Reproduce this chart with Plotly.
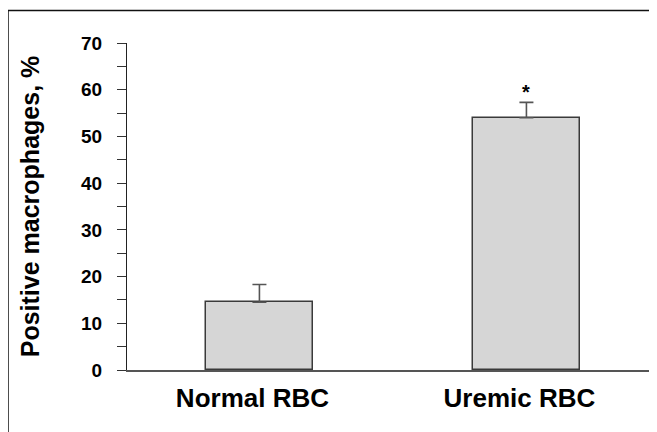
import plotly.graph_objects as go

categories = ["Normal RBC", "Uremic RBC"]
values = [14.5, 54.0]
err_plus = [3.8, 3.3]
significance = ["", "*"]
y_ticks = [0, 10, 20, 30, 40, 50, 60, 70]

x_pos = list(range(len(categories)))

fig = go.Figure()
fig.add_trace(go.Bar(
    x=x_pos, y=values, width=0.40,
    marker=dict(color="#d6d6d6", line=dict(color="#3a3a3a", width=1.5)),
    error_y=dict(type="data", symmetric=False, array=err_plus,
                 arrayminus=[0] * len(values),
                 color="#555555", thickness=1.6, width=7),
    showlegend=False,
))

for xi, v, e, s in zip(x_pos, values, err_plus, significance):
    if s:
        fig.add_annotation(x=xi, y=v + e, text=s, showarrow=False,
                           yshift=10, font=dict(family="Liberation Sans", size=20, color="black", weight="bold"))

# The page body has an 8px margin, so the figure is offset by (8, 8) on screen.
fig.update_layout(
    width=657, height=432,
    margin=dict(l=119, r=0, t=35, b=70),
    paper_bgcolor="white", plot_bgcolor="white",
    bargap=0,
    xaxis=dict(
        range=[-0.496, 1.519],
        tickmode="array", tickvals=x_pos, ticktext=categories,
        showline=True, linecolor="#555555", linewidth=1.5,
        ticks="", showgrid=False, zeroline=False,
        tickfont=dict(family="Liberation Sans", size=26, color="black", weight="bold"),
        ticklabelstandoff=4, ticklabelshift=-7,
    ),
    yaxis=dict(
        range=[0, 70],
        tickmode="array", tickvals=y_ticks,
        showline=True, linecolor="#222222", linewidth=1.3,
        ticks="outside", ticklen=9, tickwidth=1.2, tickcolor="#333333",
        minor=dict(ticks="outside", ticklen=9, tickwidth=1.2, tickcolor="#333333", dtick=5, showgrid=False),
        showgrid=False, zeroline=False,
        tickfont=dict(family="Liberation Sans", size=19, color="black", weight="bold"),
        ticklabelstandoff=11,
        title=dict(text="Positive macrophages, %", standoff=34,
                   font=dict(family="Liberation Sans", size=25, color="black", weight="bold")),
    ),
    shapes=[dict(type="rect", xref="paper", yref="paper",
                 x0=-0.2212, x1=1.2, y0=-0.5, y1=1.0994,
                 line=dict(color="#111111", width=1.5), fillcolor="rgba(0,0,0,0)", layer="above")],
)

fig.write_html("out.html")
